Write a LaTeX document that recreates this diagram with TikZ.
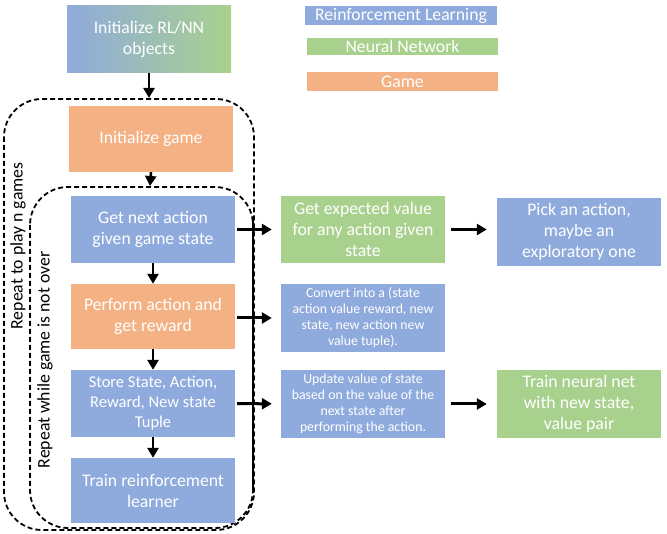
\documentclass[tikz,border=0pt]{standalone}
\usepackage{fontspec}
\setmainfont{Carlito}
\usetikzlibrary{arrows.meta}

\definecolor{rlblue}{HTML}{8FAADC}
\definecolor{nngreen}{HTML}{A9D18E}
\definecolor{gameorange}{HTML}{F4B183}

\begin{document}
\begin{tikzpicture}[x=1pt, y=-1pt,
    box/.style={fill=rlblue, text=white, minimum width=164pt, minimum height=67pt,
        align=center, inner sep=2pt, font=\fontsize{17.7}{21}\selectfont},
    small/.style={font=\fontsize{13.8}{16}\selectfont},
    legend/.style={text=white, minimum width=191pt, minimum height=19pt,
        inner sep=0pt, font=\fontsize{17.7}{21}\selectfont},
    loop/.style={draw=black, line width=1.8pt, dash pattern=on 5pt off 3pt,
        rounded corners=38pt},
    arr/.style={-{Triangle[length=10pt,width=11pt]}, line width=3pt}
]
    \useasboundingbox (0,0) rectangle (667,534);

    % loops
    \draw[loop] (4,99) rectangle (254,530);
    \draw[loop] (30,187) rectangle (253,528);
    \draw[line width=2pt] (253,218) -- (253,492);
    \node[rotate=90, font=\fontsize{17.7}{21}\selectfont] (lgames) at (18,246) {Repeat to play n games};
    \node[rotate=90, font=\fontsize{17.7}{21}\selectfont] (lover) at (45,360) {Repeat while game is not over};

    % legend
    \node[legend, fill=rlblue, minimum width=192pt] (legrl) at (401,15.5) {Reinforcement Learning};
    \node[legend, fill=nngreen, minimum height=17pt] (legnn) at (402.5,46.5) {Neural Network};
    \node[legend, fill=gameorange] (leggame) at (402.5,81.5) {Game};

    % left column
    \node[box, left color=rlblue, right color=nngreen] (init) at (149,39.5) {Initialize RL/NN\\objects};
    \node[box, fill=gameorange, minimum height=66pt] (initgame) at (151,139) {Initialize game};
    \node[box] (getnext) at (153,229.5) {Get next action\\given game state};
    \node[box, fill=gameorange, minimum height=65pt] (perform) at (153,316.5) {Perform action and\\get reward};
    \node[box, font=\fontsize{16.5}{20}\selectfont] (store) at (153,403.5) {Store State, Action,\\Reward, New state\\Tuple};
    \node[box, minimum height=65pt] (trainrl) at (153,490.5) {Train reinforcement\\learner};

    % middle column
    \node[box, fill=nngreen] (expected) at (363,229.5) {Get expected value\\for any action given\\state};
    \node[box, small, minimum height=68pt] (convert) at (363,318) {Convert into a (state\\action value reward, new\\state, new action new\\value tuple).};
    \node[box, small, minimum height=68pt] (update) at (363,404) {Update value of state\\based on the value of the\\next state after\\performing the action.};

    % right column
    \node[box, minimum height=68pt] (pick) at (579,232) {Pick an action,\\maybe an\\exploratory one};
    \node[box, fill=nngreen, minimum height=68pt] (trainnn) at (579,404) {Train neural net\\with new state,\\value pair};

    \coordinate (outertop) at (149,98);
    \coordinate (innertop) at (150,186);

    \draw[arr, line width=2.6pt] (init) -- (outertop);
    \draw[arr, line width=2.6pt] (initgame.south) -- (innertop);
    \draw[arr, line width=2.6pt] (getnext) -- (perform);
    \draw[arr, line width=2.6pt] (perform) -- (store);
    \draw[arr, line width=2.6pt] (store) -- (trainrl);

    \draw[arr, shorten <=2pt, shorten >=9pt] (getnext) -- (expected);
    \draw[arr, shorten <=2pt, shorten >=9pt] (perform.east |- convert) -- (convert);
    \draw[arr, shorten <=2pt, shorten >=9pt] (store) -- (update);
    \draw[arr, shorten <=6pt, shorten >=10pt] (expected) -- (expected -| pick.west);
    \draw[arr, shorten <=6pt, shorten >=10pt] (update) -- (trainnn);
\end{tikzpicture}
\end{document}
